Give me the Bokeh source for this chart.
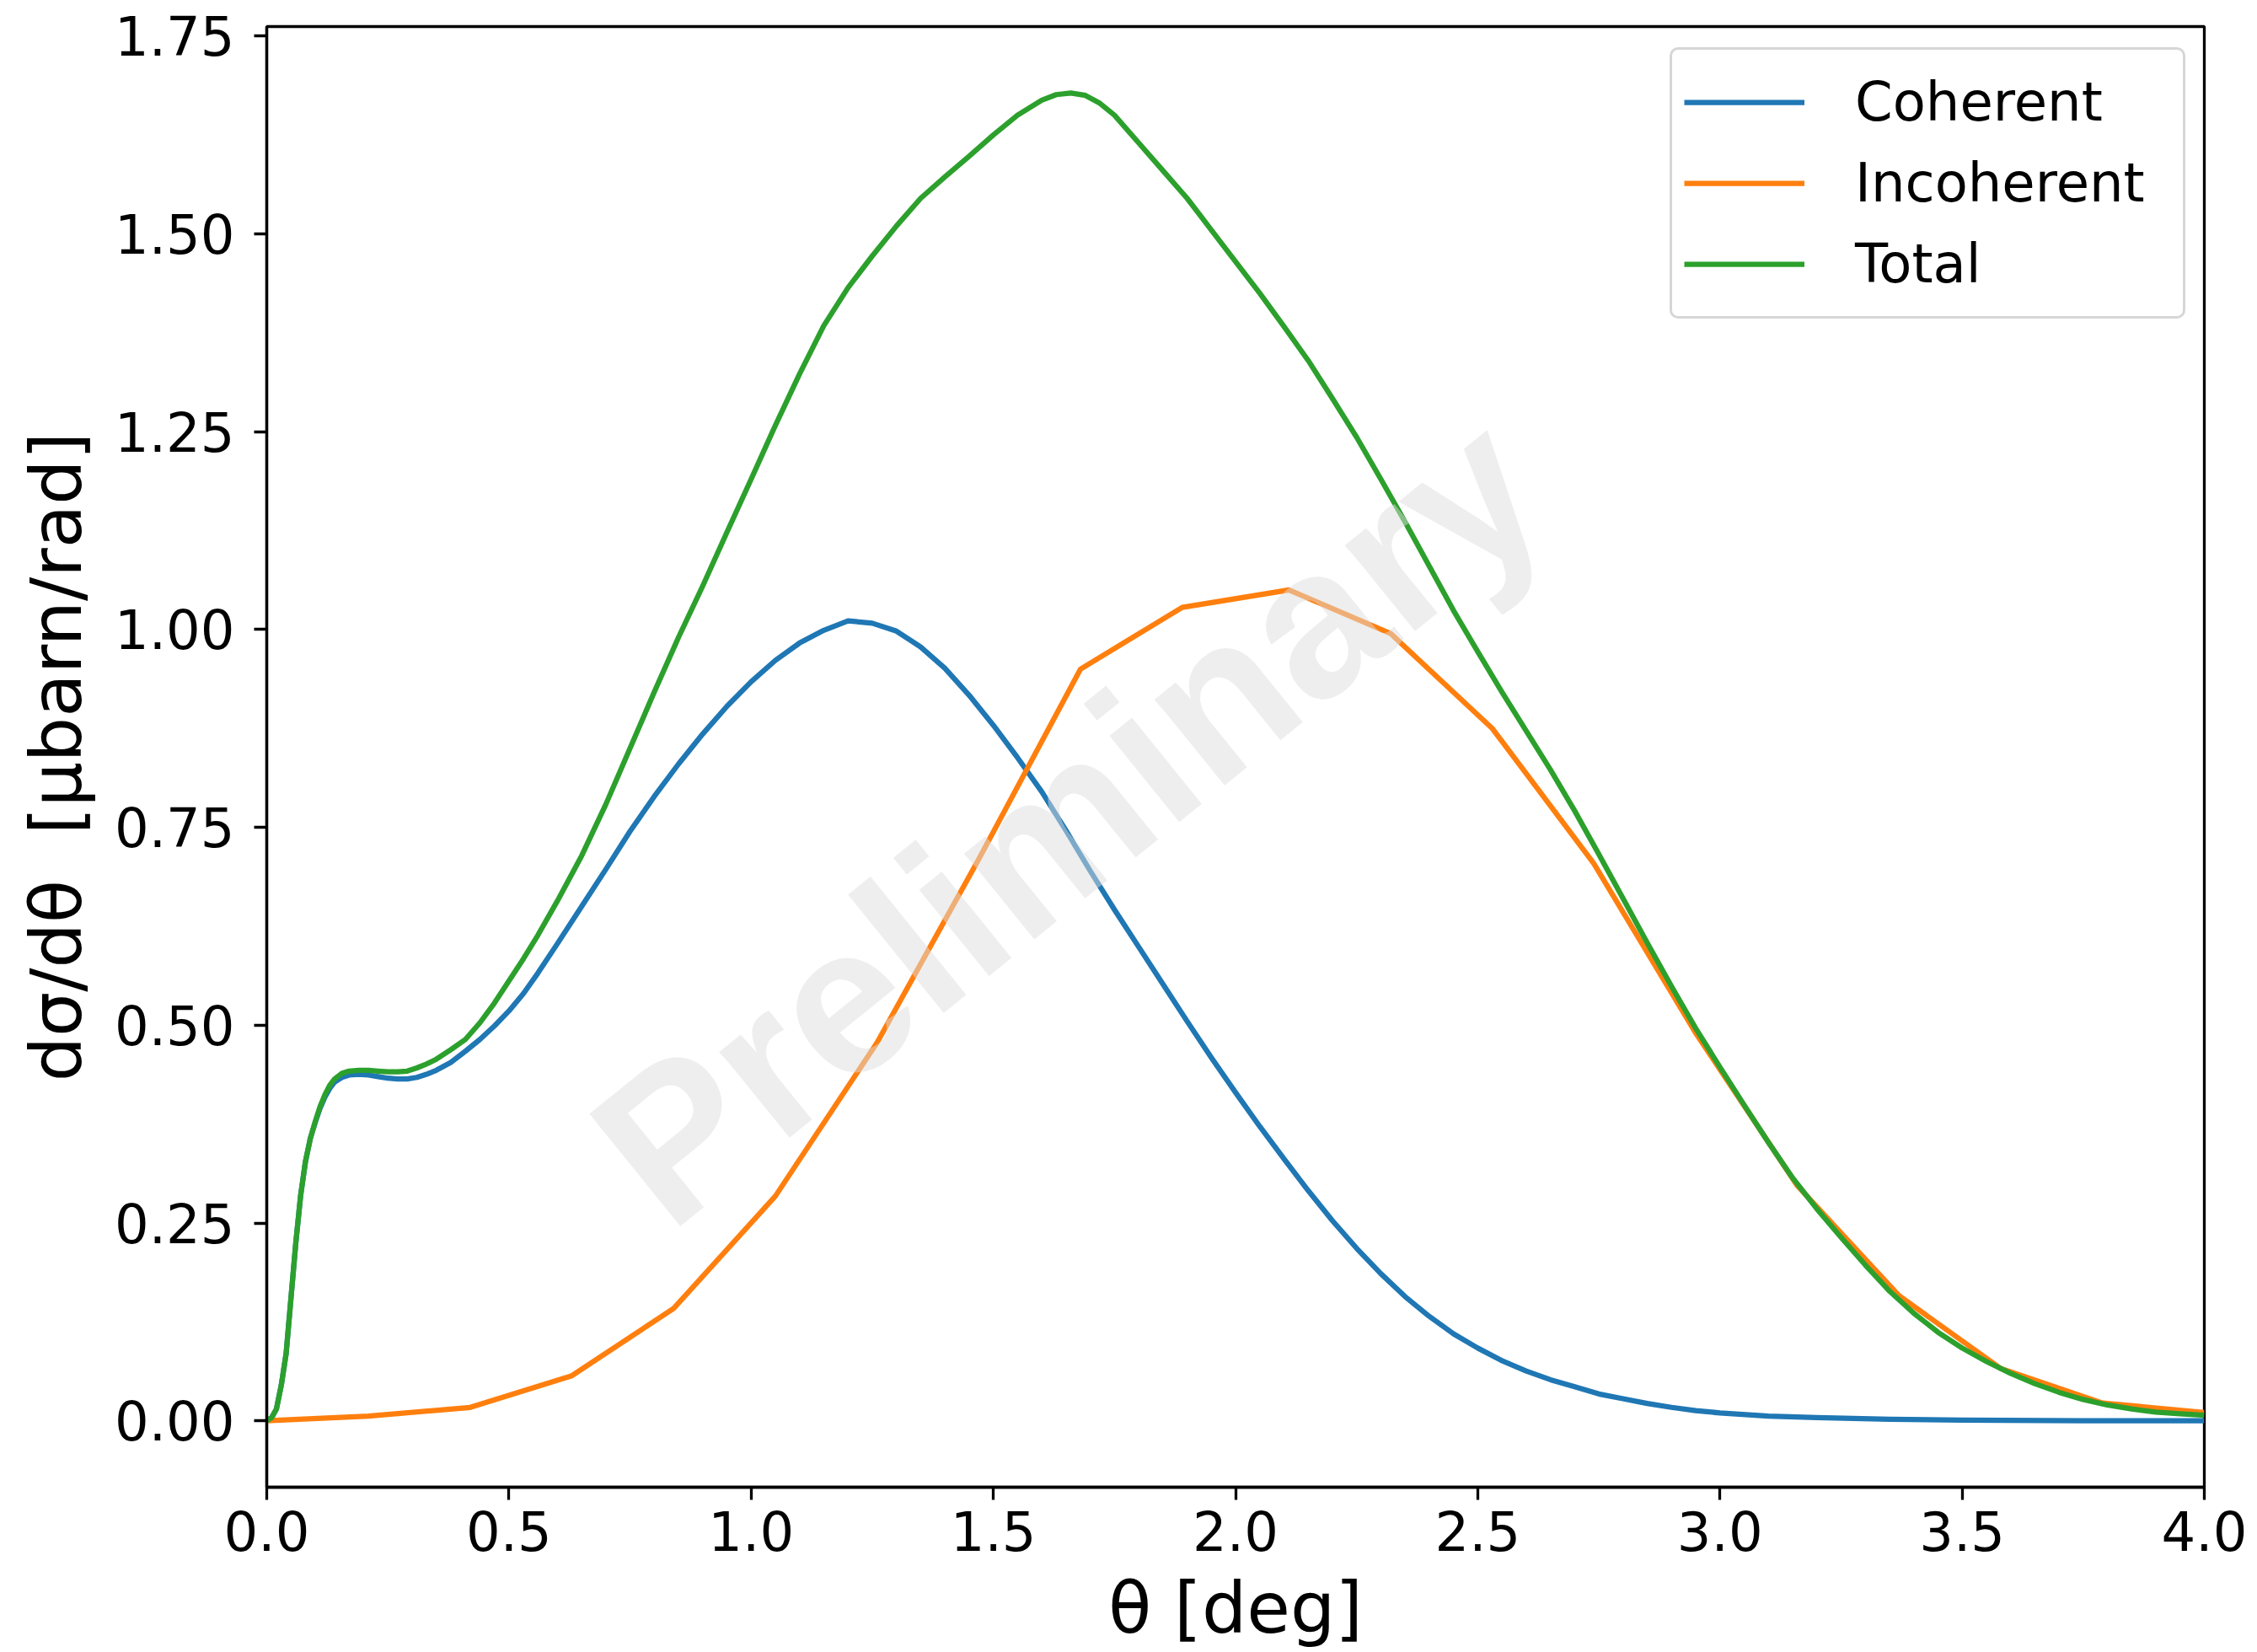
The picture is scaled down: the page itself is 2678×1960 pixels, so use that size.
from bokeh.plotting import figure
from bokeh.models import Range1d, FixedTicker, PrintfTickFormatter, Legend, LegendItem
from bokeh.core.properties import value
from bokeh.embed import file_html
from bokeh.resources import INLINE

# ---------------- data ----------------
theta_coh = [0.0, 0.01, 0.02, 0.03, 0.04, 0.05, 0.06, 0.07, 0.08, 0.09, 0.10, 0.11,
             0.12, 0.13, 0.14, 0.155, 0.17, 0.19, 0.21, 0.23, 0.25, 0.27, 0.29, 0.31,
             0.33, 0.35, 0.38, 0.41, 0.44, 0.47, 0.50, 0.53, 0.56, 0.60, 0.65, 0.70,
             0.75, 0.80, 0.85, 0.90, 0.95, 1.00, 1.05, 1.10, 1.15, 1.20, 1.25, 1.30,
             1.35, 1.40, 1.45, 1.50, 1.55, 1.60, 1.65, 1.70, 1.75, 1.80, 1.85, 1.90,
             1.95, 2.00, 2.05, 2.10, 2.15, 2.20, 2.25, 2.30, 2.35, 2.40, 2.45, 2.50,
             2.55, 2.60, 2.65, 2.70, 2.75, 2.80, 2.85, 2.90, 2.95, 3.00, 3.10, 3.20,
             3.35, 3.50, 3.75, 4.00]
coherent = [0.0, 0.004, 0.015, 0.045, 0.085, 0.155, 0.225, 0.285, 0.328, 0.357, 0.377,
            0.395, 0.409, 0.42, 0.428, 0.434, 0.437, 0.438, 0.437, 0.435, 0.433, 0.432,
            0.432, 0.434, 0.438, 0.443, 0.453, 0.467, 0.482, 0.499, 0.518, 0.54, 0.566,
            0.603, 0.65, 0.697, 0.745, 0.789, 0.83, 0.868, 0.903, 0.934, 0.961, 0.983,
            0.999, 1.011, 1.008, 0.998, 0.978, 0.951, 0.917, 0.879, 0.838, 0.795,
            0.746, 0.695, 0.646, 0.599, 0.552, 0.505, 0.459, 0.415, 0.372, 0.331,
            0.291, 0.253, 0.218, 0.186, 0.157, 0.132, 0.11, 0.092, 0.076, 0.063,
            0.052, 0.043, 0.034, 0.028, 0.022, 0.017, 0.013, 0.010, 0.006, 0.004,
            0.002, 0.001, 0.0, 0.0]

theta_inc = [0.0, 0.21, 0.42, 0.63, 0.84, 1.05, 1.26, 1.47, 1.68, 1.89, 2.11,
             2.32, 2.53, 2.74, 2.95, 3.16, 3.37, 3.58, 3.79, 4.0]
incoherent = [0.0, 0.006, 0.017, 0.057, 0.142, 0.284, 0.478, 0.71, 0.95, 1.028,
              1.05, 0.995, 0.875, 0.704, 0.49, 0.297, 0.158, 0.066, 0.0225, 0.0105]

theta_tot = [0.0, 0.01, 0.02, 0.03, 0.04, 0.05, 0.06, 0.07, 0.08, 0.09, 0.10, 0.11,
             0.12, 0.13, 0.14, 0.155, 0.17, 0.19, 0.21, 0.23, 0.25, 0.27, 0.29, 0.31,
             0.33, 0.35, 0.38, 0.41, 0.44, 0.47, 0.50, 0.53, 0.56, 0.60, 0.65, 0.70,
             0.75, 0.80, 0.85, 0.90, 0.95, 1.00, 1.05, 1.10, 1.15, 1.20, 1.25, 1.30,
             1.35, 1.40, 1.45, 1.50, 1.55, 1.60, 1.63, 1.66, 1.69, 1.72, 1.75, 1.80,
             1.85, 1.90, 1.95, 2.00, 2.05, 2.10, 2.15, 2.20, 2.25, 2.30, 2.35, 2.40,
             2.45, 2.50, 2.55, 2.60, 2.65, 2.70, 2.75, 2.80, 2.85, 2.90, 2.95, 3.00,
             3.05, 3.10, 3.15, 3.20, 3.25, 3.30, 3.35, 3.40, 3.45, 3.50, 3.55, 3.60,
             3.65, 3.70, 3.75, 3.80, 3.85, 3.90, 3.95, 4.00]
total = [0.0, 0.004, 0.015, 0.045, 0.085, 0.155, 0.225, 0.285, 0.328, 0.357, 0.378,
         0.397, 0.412, 0.424, 0.432, 0.439, 0.442, 0.443, 0.443, 0.442, 0.441, 0.441,
         0.442, 0.446, 0.451, 0.457, 0.469, 0.482, 0.503, 0.528, 0.556, 0.584, 0.614,
         0.657, 0.714, 0.779, 0.85, 0.921, 0.99, 1.055, 1.123, 1.19, 1.258, 1.323,
         1.384, 1.432, 1.472, 1.51, 1.545, 1.572, 1.598, 1.625, 1.65, 1.669, 1.676,
         1.678, 1.675, 1.665, 1.65, 1.615, 1.58, 1.545, 1.505, 1.465, 1.425, 1.383,
         1.34, 1.292, 1.243, 1.19, 1.136, 1.08, 1.024, 0.972, 0.921, 0.872, 0.823,
         0.771, 0.716, 0.66, 0.604, 0.549, 0.496, 0.447, 0.399, 0.352, 0.307, 0.268,
         0.232, 0.197, 0.164, 0.136, 0.112, 0.092, 0.075, 0.06, 0.047, 0.036, 0.027,
         0.02, 0.015, 0.011, 0.009, 0.007]

series_names = ["Coherent", "Incoherent", "Total"]
x_ticks = [0.0, 0.5, 1.0, 1.5, 2.0, 2.5, 3.0, 3.5, 4.0]
y_ticks = [0.0, 0.25, 0.5, 0.75, 1.0, 1.25, 1.5, 1.75]
x_label = "θ [deg]"
y_label = "dσ/dθ\u00a0\u00a0[μbarn/rad]"
watermark = "Preliminary"

# ---------------- figure ----------------
FONT = "DejaVu Sans"
p = figure(width=2678, height=1960, output_backend="svg", toolbar_location=None,
           x_range=Range1d(0, 4), y_range=Range1d(-0.0839, 1.762),
           min_border_left=316, min_border_right=63, min_border_top=31,
           min_border_bottom=196, background_fill_color="white",
           border_fill_color="white")

p.grid.visible = False
p.outline_line_color = "black"
p.outline_line_width = 3.3

p.xaxis.ticker = FixedTicker(ticks=x_ticks)
p.yaxis.ticker = FixedTicker(ticks=y_ticks)
p.xaxis.formatter = PrintfTickFormatter(format="%.1f")
p.yaxis.formatter = PrintfTickFormatter(format="%.2f")
p.xaxis.axis_label = x_label
p.yaxis.axis_label = y_label

for ax in (p.xaxis[0], p.yaxis[0]):
    ax.axis_line_width = 3.3
    ax.axis_line_color = "black"
    ax.major_tick_line_width = 3.3
    ax.major_tick_line_color = "black"
    ax.major_tick_in = 0
    ax.major_tick_out = 15
    ax.minor_tick_line_color = None
    ax.major_label_text_font = FONT
    ax.major_label_text_font_size = "64px"
    ax.major_label_text_color = "black"
    ax.axis_label_text_font = FONT
    ax.axis_label_text_font_size = "84px"
    ax.axis_label_text_font_style = "normal"
    ax.axis_label_text_color = "black"
    ax.axis_label_text_line_height = 0.95

p.xaxis.major_label_standoff = 13
p.xaxis.axis_label_standoff = 16
p.yaxis.major_label_standoff = 23
p.yaxis.axis_label_standoff = 17

colors = ["#1f77b4", "#ff7f0e", "#2ca02c"]
r_coh = p.line(theta_coh, coherent, line_color=colors[0], line_width=6.25, line_join="round")
r_inc = p.line(theta_inc, incoherent, line_color=colors[1], line_width=6.25, line_join="round")
r_tot = p.line(theta_tot, total, line_color=colors[2], line_width=6.25, line_join="round")

# watermark
p.text(x=[0.737], y=[0.306], text=[watermark], angle=39, angle_units="deg",
       text_font=value("Liberation Sans"), text_font_style="bold",
       text_font_size="249px", text_color="#dddddd", text_alpha=0.5,
       text_align="left", text_baseline="alphabetic")

legend = Legend(items=[LegendItem(label=series_names[0], renderers=[r_coh]),
                       LegendItem(label=series_names[1], renderers=[r_inc]),
                       LegendItem(label=series_names[2], renderers=[r_tot])],
                location=(1665, 1386))
legend.label_text_font = FONT
legend.label_text_font_size = "64px"
legend.label_text_color = "black"
legend.glyph_width = 143
legend.glyph_height = 96
legend.label_height = 96
legend.label_width = 375
legend.label_standoff = 60
legend.spacing = 0
legend.padding = 14
legend.margin = 0
legend.border_line_color = "#cccccc"
legend.border_line_alpha = 0.8
legend.border_line_width = 3
legend.background_fill_color = "white"
legend.background_fill_alpha = 0.8
try:
    legend.border_radius = 10
except Exception:
    pass
p.add_layout(legend)

open("out.html", "w").write(file_html(p, INLINE))
